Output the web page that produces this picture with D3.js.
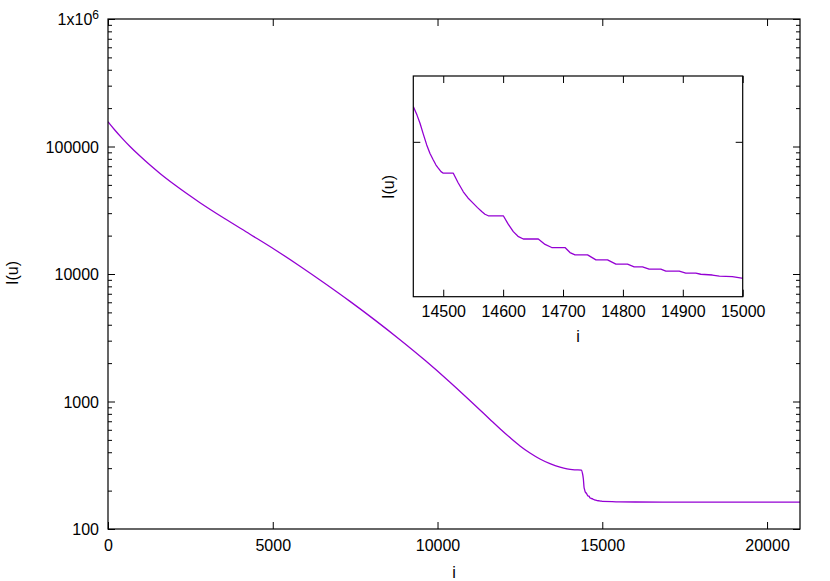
<!DOCTYPE html>
<html>
<head>
<meta charset="utf-8">
<script src="https://cdn.jsdelivr.net/npm/d3@7"></script>
<style>
  html, body { margin: 0; padding: 0; background: #fff; }
  svg { display: block; font-family: "Liberation Sans", Arial, sans-serif; }
  .tick text { font-size: 16px; fill: #000; }
</style>
</head>
<body>
<svg id="chart" width="830" height="581"></svg>
<script>
// ---- data ----
const iValues = [
  0, 212, 425, 668, 971, 1275, 1578, 2033, 2792, 3551, 4310, 5068, 5827, 6586, 7344,
  8103, 8861, 9620, 10379, 10834, 11289, 11593, 11896, 12200, 12503, 12806, 13110,
  13413, 13717, 13929, 14172, 14370, 14400, 14425,
  14450, 14456.2, 14461.2, 14466.7, 14472.4, 14477.9, 14483.4, 14487.9, 14491.7, 14496.3, 14500.1,
  14516.8, 14524.6, 14533.5, 14541.3, 14550.2, 14557.2, 14564.2, 14569.7, 14575.2,
  14600.3, 14608.2, 14617, 14624.8, 14633.7, 14658.7, 14670, 14681.1, 14703.3, 14711.6, 14720,
  14741, 14755, 14774.3, 14788.3, 14807.7, 14818.8, 14832.7, 14843.8, 14863.3, 14871.7, 14894,
  14905, 14921.7, 14930, 14949.3, 14961, 14982.7, 14998.3, 15000,
  15500, 16000, 17000, 18000, 19000, 20000, 21000
];
const IuValues = [
  156500, 134200, 116400, 100000, 84090, 71460, 61420, 49820, 36240, 27090, 20520, 15510, 11510, 8424, 6099,
  4348, 3052, 2104, 1417, 1106, 857.7, 723.7, 611.9, 521.2, 448.5, 394.6, 354.0,
  325.3, 305.2, 296.0, 291.2, 289.3, 272, 248,
  209.1, 206.9, 204.8, 202.0, 199.2, 197.0, 195.3, 194.0, 193.2, 192.3, 191.9,
  191.9, 189.5, 187.1, 185.5, 184.1, 183.0, 182.0, 181.3, 180.9,
  180.9, 178.8, 176.8, 175.6, 174.9, 174.9, 173.5, 172.7, 172.7, 171.4, 170.8,
  170.8, 169.5, 169.5, 168.4, 168.4, 167.7, 167.7, 167.1, 167.1, 166.6, 166.6,
  166.1, 166.1, 165.8, 165.6, 165.3, 165.2, 164.8, 164.8,
  163.5, 162.8, 162.5, 162.4, 162.4, 162.4, 162.4
];
const mainXTicks = [0, 5000, 10000, 15000, 20000];
const mainYTicks = [100, 1000, 10000, 100000, 1000000];
const insetXTicks = [14500, 14600, 14700, 14800, 14900, 15000];
const insetYTicks = [200];
const insetXDomain = [14450, 15000];
const insetYDomain = [160, 217];

const data = iValues.map((v, k) => ({ i: v, u: IuValues[k] }));

// ---- layout ----
const svg = d3.select("#chart");
const M = { left: 108, right: 800, top: 19, bottom: 529 };
const IN = { left: 413.3, right: 742.7, top: 76, bottom: 296.7 };
const color = "#9400d3";

const x = d3.scaleLinear().domain([0, 21000]).range([M.left, M.right]);
const y = d3.scaleLog().domain([100, 1e6]).range([M.bottom, M.top]);

// minor ticks for log axis
const minorY = [];
for (let d = 100; d < 1e6; d *= 10) for (let m = 2; m <= 9; m++) minorY.push(d * m);

function styleAxis(g) {
  g.select(".domain").remove();
  g.selectAll(".tick line").attr("stroke", "#000").attr("stroke-width", 1);
}

const defs = svg.append("defs");
defs.append("clipPath").attr("id", "mainClip")
  .append("rect").attr("x", M.left).attr("y", M.top)
  .attr("width", M.right - M.left).attr("height", M.bottom - M.top);

// main curve
svg.append("path").datum(data)
  .attr("clip-path", "url(#mainClip)")
  .attr("fill", "none").attr("stroke", color).attr("stroke-width", 1.3)
  .attr("d", d3.line().x(d => x(d.i)).y(d => y(d.u)).curve(d3.curveMonotoneX));

// main axes
svg.append("g").attr("transform", `translate(0,${M.bottom})`)
  .call(d3.axisBottom(x).tickValues(mainXTicks).tickSizeInner(-7).tickSizeOuter(0).tickPadding(11).tickFormat(d3.format("d")))
  .call(styleAxis);
svg.append("g").attr("transform", `translate(0,${M.top})`)
  .call(d3.axisTop(x).tickValues(mainXTicks).tickSizeInner(-7).tickSizeOuter(0).tickFormat(""))
  .call(styleAxis);

const yLeft = svg.append("g").attr("transform", `translate(${M.left},0)`)
  .call(d3.axisLeft(y).tickValues(mainYTicks).tickSizeInner(-7).tickSizeOuter(0).tickPadding(9)
    .tickFormat(d => d === 1e6 ? "" : d3.format("d")(d)))
  .call(styleAxis);
yLeft.selectAll(".tick text").attr("dy", "0.35em");
// 1x10^6 label with superscript
const topLabel = yLeft.selectAll(".tick").filter(d => d === 1e6).select("text");
topLabel.append("tspan").text("1x10");
topLabel.append("tspan").attr("dy", "-0.55em").attr("font-size", "12px").text("6");

svg.append("g").attr("transform", `translate(${M.left},0)`)
  .call(d3.axisLeft(y).tickValues(minorY).tickSizeInner(-4).tickSizeOuter(0).tickFormat(""))
  .call(styleAxis);
svg.append("g").attr("transform", `translate(${M.right},0)`)
  .call(d3.axisRight(y).tickValues(mainYTicks).tickSizeInner(-7).tickSizeOuter(0).tickFormat(""))
  .call(styleAxis);
svg.append("g").attr("transform", `translate(${M.right},0)`)
  .call(d3.axisRight(y).tickValues(minorY).tickSizeInner(-4).tickSizeOuter(0).tickFormat(""))
  .call(styleAxis);

svg.append("rect").attr("x", M.left).attr("y", M.top)
  .attr("width", M.right - M.left).attr("height", M.bottom - M.top)
  .attr("fill", "none").attr("stroke", "#000").attr("stroke-width", 1.2);

svg.append("text").attr("x", 454).attr("y", 578).attr("text-anchor", "middle")
  .attr("font-size", "16px").text("i");
svg.append("text").attr("transform", "translate(18,273) rotate(-90)").attr("text-anchor", "middle")
  .attr("font-size", "16px").text("I(u)");

// ---- inset ----
const xi = d3.scaleLinear().domain(insetXDomain).range([IN.left, IN.right]);
const yi = d3.scaleLinear().domain(insetYDomain).range([IN.bottom, IN.top]);

svg.append("rect").attr("x", IN.left).attr("y", IN.top)
  .attr("width", IN.right - IN.left).attr("height", IN.bottom - IN.top).attr("fill", "#fff");

defs.append("clipPath").attr("id", "insetClip")
  .append("rect").attr("x", IN.left).attr("y", IN.top)
  .attr("width", IN.right - IN.left).attr("height", IN.bottom - IN.top);

svg.append("path").datum(data.filter(d => d.i >= 14450 && d.i <= 15500))
  .attr("clip-path", "url(#insetClip)")
  .attr("fill", "none").attr("stroke", color).attr("stroke-width", 1.3)
  .attr("stroke-linejoin", "round")
  .attr("d", d3.line().x(d => xi(d.i)).y(d => yi(d.u)));

svg.append("g").attr("transform", `translate(0,${IN.bottom})`)
  .call(d3.axisBottom(xi).tickValues(insetXTicks).tickSizeInner(-7).tickSizeOuter(0).tickPadding(9).tickFormat(d3.format("d")))
  .call(styleAxis);
svg.append("g").attr("transform", `translate(0,${IN.top})`)
  .call(d3.axisTop(xi).tickValues(insetXTicks).tickSizeInner(-7).tickSizeOuter(0).tickFormat(""))
  .call(styleAxis);
svg.append("g").attr("transform", `translate(${IN.left},0)`)
  .call(d3.axisLeft(yi).tickValues(insetYTicks).tickSizeInner(-7).tickSizeOuter(0).tickFormat(""))
  .call(styleAxis);
svg.append("g").attr("transform", `translate(${IN.right},0)`)
  .call(d3.axisRight(yi).tickValues(insetYTicks).tickSizeInner(-7).tickSizeOuter(0).tickFormat(""))
  .call(styleAxis);

svg.append("rect").attr("x", IN.left).attr("y", IN.top)
  .attr("width", IN.right - IN.left).attr("height", IN.bottom - IN.top)
  .attr("fill", "none").attr("stroke", "#000").attr("stroke-width", 1.2);

svg.append("text").attr("x", 578).attr("y", 342).attr("text-anchor", "middle")
  .attr("font-size", "16px").text("i");
svg.append("text").attr("transform", "translate(394,187) rotate(-90)").attr("text-anchor", "middle")
  .attr("font-size", "16px").text("I(u)");
</script>
</body>
</html>
